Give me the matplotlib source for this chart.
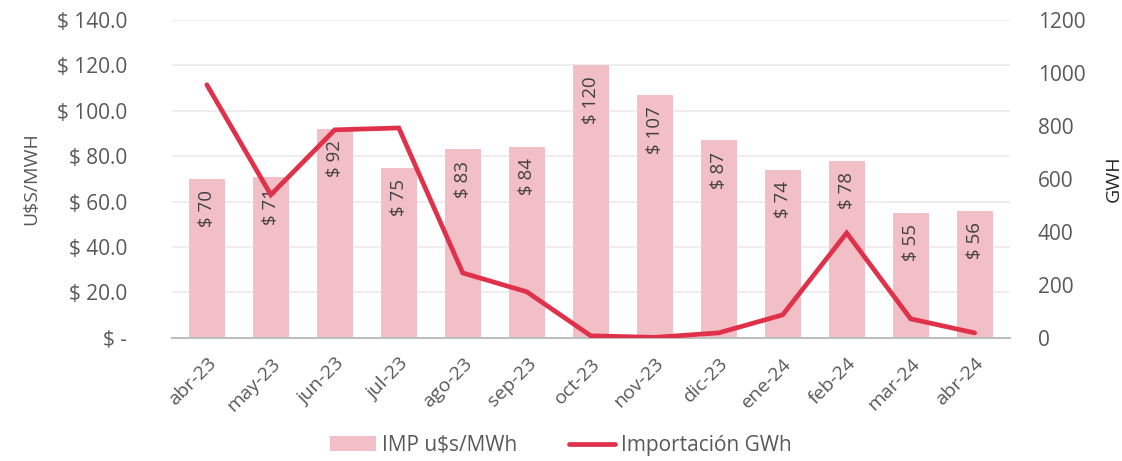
import matplotlib
matplotlib.use("Agg")
import matplotlib.pyplot as plt
import numpy as np

months = ["abr-23", "may-23", "jun-23", "jul-23", "ago-23", "sep-23", "oct-23",
          "nov-23", "dic-23", "ene-24", "feb-24", "mar-24", "abr-24"]
price_usd_mwh = [70, 71, 92, 75, 83, 84, 120, 107, 87, 74, 78, 55, 56]
import_gwh = [955, 540, 785, 792, 245, 174, 8, 2, 19, 87, 396, 72, 19]

left_ticks = [0, 20, 40, 60, 80, 100, 120, 140]
left_ticklabels = ["$ -", "$ 20.0", "$ 40.0", "$ 60.0", "$ 80.0", "$ 100.0", "$ 120.0", "$ 140.0"]
right_ticks = [0, 200, 400, 600, 800, 1000, 1200]

plt.rcParams["font.family"] = ["Open Sans", "DejaVu Sans"]
text_gray = "#595959"
bar_color = "#F2BFC7"
line_color = "#E0314A"

fig = plt.figure(figsize=(11.22, 4.61), dpi=100)
ax = fig.add_axes([0.153, 0.267, 0.747, 0.69])
x = np.arange(len(months))

bars = ax.bar(x, price_usd_mwh, width=0.56, color=bar_color, zorder=2,
              label="IMP u$s/MWh")
ax.set_ylim(0, 140)
ax.set_xlim(-0.55, len(months) - 0.45)
ax.set_yticks(left_ticks)
ax.set_yticklabels(left_ticklabels)
ax.yaxis.grid(True, color="#EBEBEB", linewidth=1.2, zorder=0)
ax.set_axisbelow(True)
for s in ["top", "right", "left"]:
    ax.spines[s].set_visible(False)
ax.spines["bottom"].set_color("#BFBFBF")
ax.spines["bottom"].set_linewidth(1.5)
ax.tick_params(axis="y", length=0, labelsize=15, labelcolor=text_gray, pad=32)
ax.tick_params(axis="x", length=0, labelsize=14, labelcolor=text_gray, pad=12)
ax.set_xticks(x)
ax.set_xticklabels(months, rotation=45, ha="right", rotation_mode="anchor")
ax.set_ylabel("U$S/MWH", fontsize=14, color=text_gray, labelpad=12)

for xi, v in zip(x, price_usd_mwh):
    ax.text(xi, v - 5, f"$ {v}", rotation=90, ha="center", va="top",
            fontsize=13.5, color="#404040", zorder=3)

ax2 = ax.twinx()
line, = ax2.plot(x, import_gwh, color=line_color, linewidth=3.4, zorder=4,
                 label="Importación GWh", solid_capstyle="round", solid_joinstyle="miter")
ax2.set_ylim(0, 1200)
ax2.set_yticks(right_ticks)
for s in ["top", "right", "left", "bottom"]:
    ax2.spines[s].set_visible(False)
ax2.tick_params(axis="y", length=0, labelsize=15, labelcolor=text_gray, pad=20)
ax2.set_ylabel("GWH", fontsize=14, color="#262626", labelpad=14)

fig.legend([bars, line], ["IMP u$s/MWh", "Importación GWh"], loc="lower center",
           bbox_to_anchor=(0.5, -0.03), ncol=2, frameon=False, fontsize=15,
           labelcolor=text_gray, handlelength=2.2, handletextpad=0.3, columnspacing=2.5)

fig.savefig("out.png", dpi=100)
